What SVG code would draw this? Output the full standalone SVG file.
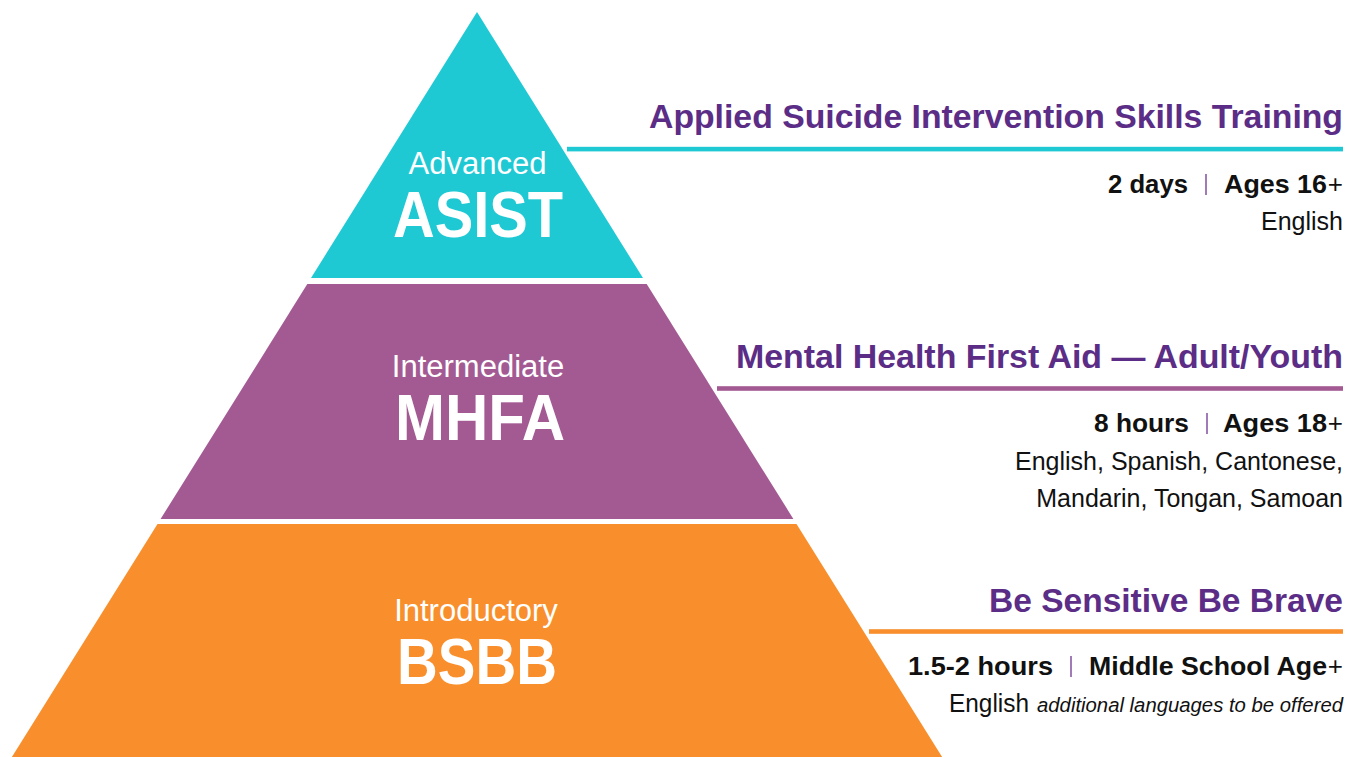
<svg xmlns="http://www.w3.org/2000/svg" width="1359" height="757" viewBox="0 0 1359 757">
<style>
.lbl{font-family:"Liberation Sans",Arial,sans-serif;fill:#fff;text-anchor:middle}
.sm{font-size:31px}
.big{font-size:64px;font-weight:bold}
.hd{font-family:"Liberation Sans",Arial,sans-serif;font-size:34px;font-weight:bold;fill:#5B2D86;text-anchor:end}
.b{font-family:"Liberation Sans",Arial,sans-serif;font-size:26px;font-weight:bold;fill:#111}
.r{font-family:"Liberation Sans",Arial,sans-serif;font-size:25px;fill:#111}
.plus{font-family:"Liberation Sans",Arial,sans-serif;font-size:26px;fill:#111;text-anchor:end}
.it{font-family:"Liberation Sans",Arial,sans-serif;font-size:20px;font-style:italic;fill:#111;text-anchor:end}
.sep{stroke:#8A5AA6;stroke-width:1.6}
</style>
<rect width="1359" height="757" fill="#fff"/>
<g id="tier-asist">
<polygon points="477,12 643,278 311,278" fill="#1FC9D4"/>
<text class="lbl sm" x="477.5" y="174">Advanced</text>
<text class="lbl big" x="478" y="237" textLength="170" lengthAdjust="spacingAndGlyphs">ASIST</text>
</g>
<g id="tier-mhfa">
<polygon points="307.3,284 646.7,284 793.4,519 160.6,519" fill="#A35A93"/>
<text class="lbl sm" x="478" y="377">Intermediate</text>
<text class="lbl big" x="480" y="440" textLength="170" lengthAdjust="spacingAndGlyphs">MHFA</text>
</g>
<g id="tier-bsbb">
<polygon points="157.5,524 796.5,524 944,760 10,760" fill="#F88F2C"/>
<text class="lbl sm" x="476" y="621">Introductory</text>
<text class="lbl big" x="477" y="684" textLength="160" lengthAdjust="spacingAndGlyphs">BSBB</text>
</g>
<g id="connectors">
<rect x="567" y="146.8" width="776" height="4.6" fill="#1FC9D4"/>
<rect x="717" y="386.2" width="626" height="4.6" fill="#A35A93"/>
<rect x="869" y="629.2" width="474" height="4.6" fill="#F88F2C"/>
</g>
<g id="info-asist">
<text class="hd" x="1343" y="127.5" textLength="694" lengthAdjust="spacingAndGlyphs">Applied Suicide Intervention Skills Training</text>
<text class="b" x="1108" y="193.3" textLength="80" lengthAdjust="spacingAndGlyphs">2 days</text>
<line class="sep" x1="1206" y1="174" x2="1206" y2="195"/>
<text class="b" x="1224" y="193.3" textLength="103" lengthAdjust="spacingAndGlyphs">Ages 16</text>
<text class="plus" x="1343" y="193.3">+</text>
<text class="r" x="1343" y="230" text-anchor="end">English</text>
</g>
<g id="info-mhfa">
<text class="hd" x="1343" y="368.3" textLength="607" lengthAdjust="spacingAndGlyphs">Mental Health First Aid — Adult/Youth</text>
<text class="b" x="1094" y="431.7" textLength="95" lengthAdjust="spacingAndGlyphs">8 hours</text>
<line class="sep" x1="1207" y1="413" x2="1207" y2="434"/>
<text class="b" x="1223" y="431.7" textLength="104" lengthAdjust="spacingAndGlyphs">Ages 18</text>
<text class="plus" x="1343" y="431.7">+</text>
<text class="r" x="1343" y="470" text-anchor="end">English, Spanish, Cantonese,</text>
<text class="r" x="1343" y="506.7" text-anchor="end">Mandarin, Tongan, Samoan</text>
</g>
<g id="info-bsbb">
<text class="hd" x="1343" y="612.3" textLength="354" lengthAdjust="spacingAndGlyphs">Be Sensitive Be Brave</text>
<text class="b" x="908" y="675" textLength="145" lengthAdjust="spacingAndGlyphs">1.5-2 hours</text>
<line class="sep" x1="1071" y1="656" x2="1071" y2="677"/>
<text class="b" x="1089" y="675" textLength="238" lengthAdjust="spacingAndGlyphs">Middle School Age</text>
<text class="plus" x="1343" y="675">+</text>
<text class="r" x="949" y="711.7" textLength="80" lengthAdjust="spacingAndGlyphs">English</text>
<text class="it" x="1343" y="711.7" textLength="306" lengthAdjust="spacingAndGlyphs">additional languages to be offered</text>
</g>
</svg>
